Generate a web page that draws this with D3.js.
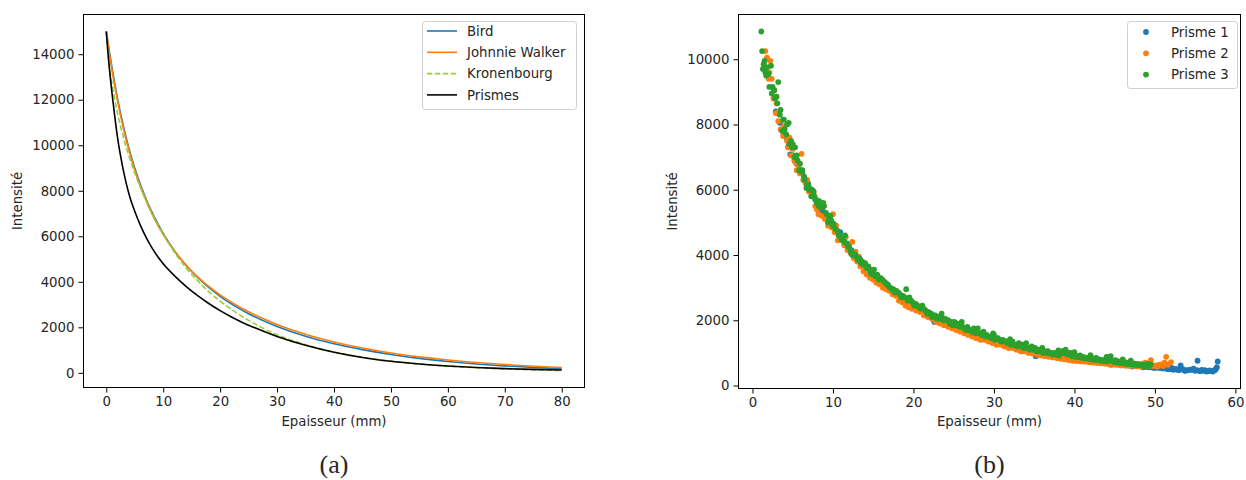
<!DOCTYPE html>
<html>
<head>
<meta charset="utf-8">
<script src="https://cdn.jsdelivr.net/npm/d3@7"></script>
<style>
  body { margin: 0; background: #fff; }
  text { font-family: "DejaVu Sans", sans-serif; fill: #262626; }
</style>
</head>
<body>
<div id="chart"></div>
<script>
// ---- left panel: fitted attenuation curves ----
const curveNames = ["Bird", "Johnnie Walker", "Kronenbourg", "Prismes"];
const curveColors = ["#1f77b4", "#ff7f0e", "#9acd32", "#000000"];
const birdCurve = [[0,15000],[0.5,14200],[1,13420],[2,12030],[3,10850],[4,9850],[5,9000],[6,8270],[7,7630],[8,7070],[9,6580],[10,6130],[12,5360],[14,4730],[16,4200],[18,3750],[20,3360],[25,2600],[30,2040],[35,1610],[40,1280],[45,1020],[50,805],[55,635],[60,500],[65,390],[70,305],[75,240],[80,185]];
const walkerCurve = [[0,15000],[0.5,14120],[1,13310],[2,11915],[3,10745],[4,9758],[5,8915],[6,8190],[7,7560],[8,7005],[9,6517],[10,6082],[12,5343],[14,4737],[16,4230],[18,3799],[20,3427],[25,2684],[30,2124],[35,1694],[40,1356],[45,1088],[50,873],[55,702],[60,564],[65,453],[70,364],[75,293],[80,235]];
const kronenbourgCurve = [[0,15000],[0.5,13560],[1,12710],[2,11380],[3,10370],[4,9514],[5,8781],[6,8149],[7,7545],[8,7005],[9,6517],[10,6082],[12,5290],[14,4619],[16,4061],[18,3571],[20,3153],[25,2308],[30,1678],[35,1237],[40,915],[45,685],[50,515],[55,386],[60,293],[65,224],[70,171],[75,132],[80,101]];
const prismesCurve = [[0,15000],[0.25,14200],[0.5,13500],[1,12300],[1.5,11250],[2,10300],[3,8900],[4,7850],[5,7100],[6,6480],[7,5950],[8,5500],[9,5120],[10,4790],[12,4260],[14,3800],[16,3400],[18,3046],[20,2732],[22,2452],[24,2202],[26,1990],[30,1600],[35,1210],[40,905],[45,675],[50,507],[55,386],[60,298],[65,233],[70,186],[75,151],[80,126]];
const xTicksA = [0, 10, 20, 30, 40, 50, 60, 70, 80];
const yTicksA = [0, 2000, 4000, 6000, 8000, 10000, 12000, 14000];

// ---- right panel: measured points ----
const pointNames = ["Prisme 1", "Prisme 2", "Prisme 3"];
const pointColors = ["#1f77b4", "#ff7f0e", "#2ca02c"];
const prisme1 = [[2.9,8400],[3.4,8050],[3.8,7800],[4.2,7600],[4.7,7080],[5.1,7050],[5.5,6800],[6.0,6600],[6.4,6350],[6.9,6200],[7.3,5900],[7.8,5700],[8.2,5350],[8.7,5350],[9.1,5200],[9.6,5050],[10.0,4950],[10.5,4750],[10.9,4700],[11.4,4450],[11.8,4350],[12.3,4150],[12.7,4050],[13.2,3950],[13.6,3800],[14.1,3650],[14.5,3550],[15.0,3400],[15.4,3350],[15.9,3200],[16.3,3150],[16.8,3100],[17.2,2950],[17.7,2900],[18.1,2850],[18.6,2700],[19.0,2650],[19.5,2600],[19.9,2500],[20.4,2400],[20.8,2400],[21.3,2300],[21.7,2250],[22.2,2200],[22.6,1950],[23.1,1950],[23.5,2050],[24.0,2000],[24.4,1950],[24.9,1900],[25.3,1850],[25.8,1800],[26.2,1750],[26.7,1750],[27.1,1650],[27.6,1650],[28.0,1600],[28.5,1550],[28.9,1500],[29.4,1450],[29.8,1450],[30.3,1400],[30.7,1350],[31.2,1350],[31.6,1300],[32.1,1280],[32.5,1250],[33.0,1200],[33.4,1050],[33.9,1150],[34.3,1100],[34.8,1100],[35.2,900],[35.7,1050],[36.1,1000],[36.6,1000],[37.0,950],[37.5,950],[37.9,920],[38.4,880],[38.8,900],[39.3,850],[39.7,860],[40.2,830],[40.6,820],[41.1,800],[41.5,780],[42.0,760],[42.4,760],[42.9,740],[43.3,700],[43.8,720],[44.2,680],[44.7,690],[45.1,660],[45.6,650],[46.0,640],[46.5,620],[46.9,620],[47.4,600],[47.8,600],[48.3,580],[48.7,570],[49.2,560],[49.6,560],[50.1,550],[50.5,540],[51.0,520],[51.4,530],[51.9,500],[52.3,480],[52.8,480],[53.2,620],[53.7,450],[54.1,470],[54.6,480],[55.0,450],[55.3,760],[55.6,440],[56.0,450],[56.4,430],[56.8,460],[57.2,430],[57.5,480],[57.7,560],[57.8,740],
  [3.0,8350],[4.0,7700],[4.5,7350],[5.3,6900],[6.2,6500],[7.1,6000],[8.0,5500],[9.4,5000],[10.7,4600],[12.0,4250],[13.4,3850],[14.8,3450],[16.1,3150],[17.5,2900],[18.8,2700],[20.2,2450],[21.5,2250],[22.9,2100],[24.2,1950],[25.6,1800],[26.9,1700],[28.3,1550],[29.6,1450],[31.0,1350],[32.3,1250],[33.7,1150],[35.0,1080],[36.4,980],[37.7,920],[39.0,870],[40.4,800],[41.8,760],[43.1,720],[44.5,640],[45.8,620],[47.2,580],[48.5,560],[49.9,540],[50.8,540],[51.6,500],[52.1,540],[52.6,510],[53.0,470],[53.5,500],[53.9,460],[54.4,490],[54.8,520],[55.2,470],[55.8,480],[56.2,470],[56.6,440],[57.0,450],[57.4,470],[57.6,520]];
const prisme2 = [[1.4,9850],[1.6,10250],[1.8,10050],[2.1,9600],[2.4,9400],[2.7,9050],[3.0,8650],[3.3,8400],[3.6,7850],[3.9,7950],[4.3,7500],[4.6,7600],[5.0,7250],[5.3,6850],[5.7,6750],[6.1,7100],[6.4,6400],[6.8,6300],[7.2,5950],[7.6,5900],[8.0,5400],[8.4,5550],[8.8,5200],[9.2,5150],[9.6,5000],[10.0,5250],[10.4,4900],[10.8,4600],[11.2,4450],[11.6,4550],[12.0,4200],[12.4,4400],[12.8,4100],[13.2,3950],[13.6,3800],[14.0,3600],[14.4,3550],[14.8,3400],[15.2,3300],[15.6,3200],[16.0,3150],[16.4,3100],[16.8,3050],[17.2,2950],[17.6,2850],[18.0,2800],[18.4,2700],[18.8,2650],[19.2,2500],[19.6,2400],[20.0,2500],[20.5,2350],[21.0,2300],[21.5,2200],[22.0,2150],[22.5,2100],[23.0,2000],[23.5,2000],[24.0,1950],[24.5,1850],[25.0,1850],[25.5,1800],[26.0,1700],[26.5,1650],[27.0,1600],[27.5,1700],[28.0,1550],[28.5,1500],[29.0,1450],[29.5,1400],[30.0,1350],[30.5,1300],[31.0,1300],[31.5,1250],[32.0,1200],[32.5,1200],[33.0,1150],[33.5,1100],[34.0,1100],[34.5,1050],[35.0,1000],[35.5,1000],[36.0,950],[36.5,950],[37.0,900],[37.5,880],[38.0,850],[38.5,850],[39.0,820],[39.5,800],[40.0,800],[40.5,780],[41.0,760],[41.5,760],[42.0,740],[42.5,720],[43.0,720],[43.5,700],[44.0,700],[44.5,680],[45.0,680],[45.5,660],[46.0,660],[46.5,640],[47.0,650],[47.5,640],[48.0,620],[48.5,660],[49.0,620],[49.5,780],[50.0,620],[50.5,640],[51.0,600],[51.4,880],[51.6,640],[52.0,720],
  [2.0,9400],[2.2,9950],[2.6,8800],[2.9,8350],[3.2,8100],[3.5,7850],[3.8,7650],[4.1,7700],[4.4,7300],[4.8,7050],[5.2,6900],[5.5,6600],[5.9,6500],[6.3,6300],[6.6,6200],[7.0,5950],[7.4,5800],[7.8,5500],[8.2,5250],[8.6,5200],[9.0,5100],[9.4,4900],[9.8,4850],[10.2,4700],[10.6,4450],[11.0,4450],[11.4,4300],[11.8,4150],[12.2,4050],[12.6,3900],[13.0,3800],[13.4,3650],[13.8,3500],[14.2,3400],[14.6,3300],[15.0,3250],[15.4,3150],[15.8,3100],[16.2,3000],[16.6,2950],[17.0,2900],[17.4,2800],[17.8,2750],[18.2,2600],[18.6,2550],[19.0,2450],[19.4,2400],[19.8,2350],[20.3,2300],[20.8,2250],[21.3,2150],[21.8,2100],[22.3,2050],[22.8,1950],[23.3,1900],[23.8,1850],[24.3,1800],[24.8,1750],[25.3,1700],[25.8,1650],[26.3,1600],[26.8,1550],[27.3,1500],[27.8,1450],[28.3,1400],[28.8,1400],[29.3,1350],[29.8,1300],[30.3,1250],[30.8,1250],[31.3,1200],[31.8,1150],[32.3,1150],[32.8,1100],[33.3,1050],[33.8,1050],[34.3,1000],[34.8,980],[35.3,950],[35.8,920],[36.3,900],[36.8,880],[37.3,860],[37.8,840],[38.3,820],[38.8,800],[39.3,780],[39.8,760],[40.3,750],[40.8,740],[41.3,730],[41.8,710],[42.3,700],[42.8,690],[43.3,680],[43.8,670],[44.3,650],[44.8,640],[45.3,630],[45.8,620],[46.3,610],[46.8,600],[47.3,600],[47.8,590],[48.3,580],[48.8,700],[49.3,590],[49.8,600],[50.3,580],[50.8,650],[51.2,700]];
const prisme3 = [[1.1,10850],[1.2,10250],[1.4,9850],[1.6,9600],[1.8,9750],[2.0,9550],[2.3,9800],[2.5,9150],[2.7,9050],[3.0,8850],[3.2,9300],[3.5,8450],[3.8,8150],[4.0,7850],[4.3,8000],[4.5,8050],[4.8,7500],[5.0,7400],[5.3,7300],[5.6,6900],[5.9,6800],[6.2,6600],[6.5,6300],[6.8,6150],[7.1,6000],[7.4,6000],[7.7,5800],[8.0,5600],[8.3,5650],[8.6,5500],[8.9,5500],[9.2,5250],[9.5,5100],[9.8,5050],[10.1,4950],[10.5,4750],[10.8,4600],[11.2,4450],[11.5,4600],[11.9,4250],[12.2,4100],[12.6,4050],[12.9,3950],[13.3,3900],[13.6,3800],[14.0,3750],[14.4,3650],[14.7,3450],[15.1,3550],[15.5,3400],[15.9,3300],[16.3,3200],[16.7,3100],[17.1,3000],[17.5,2950],[17.9,2900],[18.3,2800],[18.7,2750],[19.1,2950],[19.5,2700],[19.9,2550],[20.3,2500],[20.7,2400],[21.1,2450],[21.5,2300],[21.9,2250],[22.3,2100],[22.7,2150],[23.1,2100],[23.5,2200],[23.9,2050],[24.3,2000],[24.7,1950],[25.1,1950],[25.5,1900],[25.9,1850],[26.3,1750],[26.7,1800],[27.1,1700],[27.5,1750],[27.9,1650],[28.3,1600],[28.7,1650],[29.1,1550],[29.5,1500],[29.9,1600],[30.3,1450],[30.7,1400],[31.1,1400],[31.5,1350],[31.9,1300],[32.3,1350],[32.7,1250],[33.1,1300],[33.5,1250],[33.9,1200],[34.3,1150],[34.7,1200],[35.1,1150],[35.5,1100],[35.9,1100],[36.3,1050],[36.7,1050],[37.1,1000],[37.5,1000],[37.9,950],[38.3,980],[38.7,1000],[39.1,950],[39.5,1000],[39.9,950],[40.3,900],[40.7,920],[41.1,880],[41.5,850],[41.9,870],[42.3,820],[42.7,850],[43.1,800],[43.5,780],[43.9,800],[44.3,820],[44.7,760],[45.1,780],[45.5,740],[45.9,700],[46.3,720],[46.7,690],[47.1,700],[47.5,670],[47.9,660],[48.3,650],[48.7,640],[49.1,660],[49.5,650],
  [1.3,9700],[1.5,9950],[1.7,9500],[2.1,9150],[2.4,8950],[2.8,8800],[3.1,8650],[3.4,8300],[3.7,7800],[3.9,8150],[4.2,7700],[4.6,7400],[4.9,7300],[5.2,7000],[5.5,7050],[5.8,6600],[6.1,6550],[6.4,6400],[6.7,6050],[7.0,6100],[7.3,5800],[7.6,5950],[7.9,5700],[8.2,5500],[8.5,5450],[8.8,5600],[9.1,5300],[9.4,5000],[9.7,5200],[10.0,4900],[10.3,4800],[10.7,4650],[11.0,4500],[11.4,4400],[11.7,4350],[12.0,4250],[12.4,4000],[12.8,4000],[13.1,3850],[13.5,3750],[13.8,3700],[14.2,3600],[14.6,3550],[14.9,3400],[15.3,3350],[15.7,3250],[16.1,3250],[16.5,3150],[16.9,3050],[17.3,2950],[17.7,2850],[18.1,2850],[18.5,2700],[18.9,2700],[19.3,2600],[19.7,2600],[20.1,2450],[20.5,2450],[20.9,2350],[21.3,2350],[21.7,2200],[22.1,2200],[22.5,2150],[22.9,2050],[23.3,2050],[23.7,2000],[24.1,2000],[24.5,1900],[24.9,1850],[25.3,1850],[25.7,1800],[26.1,1800],[26.5,1700],[26.9,1700],[27.3,1650],[27.7,1600],[28.1,1600],[28.5,1550],[28.9,1500],[29.3,1500],[29.7,1450],[30.1,1400],[30.5,1450],[30.9,1350],[31.3,1350],[31.7,1300],[32.1,1250],[32.5,1250],[32.9,1200],[33.3,1200],[33.7,1150],[34.1,1150],[34.5,1100],[34.9,1100],[35.3,1050],[35.7,1050],[36.1,1000],[36.5,1000],[36.9,980],[37.3,950],[37.7,950],[38.1,920],[38.5,1050],[38.9,1100],[39.3,1000],[39.7,900],[40.1,880],[40.5,870],[40.9,850],[41.3,830],[41.7,820],[42.1,800],[42.5,790],[42.9,780],[43.3,760],[43.7,750],[44.1,740],[44.5,900],[44.9,720],[45.3,700],[45.7,690],[46.1,680],[46.5,660],[46.9,650],[47.3,640],[47.7,630],[48.1,620],[48.5,610],[48.9,600],[49.3,600],
  [26.0,1950],[28.0,1750],[30.0,1560],[32.0,1420],[34.0,1300],[36.0,1150],[38.0,1080],[40.0,1020],[42.0,930],[44.0,880],[46.0,800],[47.0,760]];
const xTicksB = [0, 10, 20, 30, 40, 50, 60];
const yTicksB = [0, 2000, 4000, 6000, 8000, 10000];

const curves = [birdCurve, walkerCurve, kronenbourgCurve, prismesCurve];
const pointSets = [prisme1, prisme2, prisme3];

const svg = d3.select("#chart").append("svg")
    .attr("width", 1246)
    .attr("height", 480);

// matplotlib-like 5% padding around the data
function padded(ext) {
    const p = (ext[1] - ext[0]) * 0.05;
    return [ext[0] - p, ext[1] + p];
}

// frame, ticks and labels for one panel
function drawAxes(box, x, y, xt, yt, caption) {
    const g = svg.append("g");
    g.append("g")
        .attr("transform", `translate(0,${box.bottom})`)
        .call(d3.axisBottom(x).tickValues(xt).tickSize(5).tickPadding(4).tickSizeOuter(0).tickFormat(d3.format("d")))
        .call(a => a.select(".domain").remove());
    g.append("g")
        .attr("transform", `translate(${box.left},0)`)
        .call(d3.axisLeft(y).tickValues(yt).tickSize(5).tickPadding(4).tickSizeOuter(0).tickFormat(d3.format("d")))
        .call(a => a.select(".domain").remove());
    g.selectAll(".tick line").attr("stroke", "#000").attr("stroke-width", 1);
    g.selectAll(".tick text")
        .style("font-family", "'DejaVu Sans', sans-serif")
        .style("font-size", "13.3px")
        .attr("fill", "#262626");

    g.append("rect")
        .attr("x", box.left).attr("y", box.top)
        .attr("width", box.right - box.left).attr("height", box.bottom - box.top)
        .attr("fill", "none").attr("stroke", "#000").attr("stroke-width", 1);

    g.append("text")
        .attr("x", (box.left + box.right) / 2).attr("y", 426)
        .attr("text-anchor", "middle")
        .style("font-size", "13.3px")
        .text("Epaisseur (mm)");
    g.append("text")
        .attr("transform", `translate(${box.left - 62},${(box.top + box.bottom) / 2}) rotate(-90)`)
        .attr("text-anchor", "middle")
        .style("font-size", "13.3px")
        .text("Intensité");
    g.append("text")
        .attr("x", (box.left + box.right) / 2).attr("y", 473)
        .attr("text-anchor", "middle")
        .style("font-family", "'Liberation Serif', serif")
        .style("font-size", "26px")
        .attr("fill", "#000")
        .text(caption);
}

// ---- panel (a) ----
const boxA = { left: 83.5, right: 584.5, top: 14.5, bottom: 387.5 };
const xA = d3.scaleLinear()
    .domain(padded(d3.extent(curves.flat(), d => d[0])))
    .range([boxA.left, boxA.right]);
const yA = d3.scaleLinear()
    .domain(padded(d3.extent(curves.flat(), d => d[1])))
    .range([boxA.bottom, boxA.top]);

const line = d3.line()
    .x(d => xA(d[0]))
    .y(d => yA(d[1]))
    .curve(d3.curveMonotoneX);

const gA = svg.append("g");
curves.forEach((c, i) => {
    gA.append("path")
        .datum(c)
        .attr("d", line)
        .attr("fill", "none")
        .attr("stroke", curveColors[i])
        .attr("stroke-width", 1.6)
        .attr("stroke-dasharray", curveNames[i] === "Kronenbourg" ? "5.5,2.4" : null);
});
drawAxes(boxA, xA, yA, xTicksA, yTicksA, "(a)");

// legend (a)
const legA = svg.append("g");
legA.append("rect")
    .attr("x", 422.5).attr("y", 21.5).attr("width", 154).attr("height", 88)
    .attr("rx", 3).attr("fill", "#fff").attr("fill-opacity", 0.8)
    .attr("stroke", "#d0d0d0");
curveNames.forEach((n, i) => {
    const yy = 31 + i * 21.3;
    legA.append("line")
        .attr("x1", 427).attr("x2", 457).attr("y1", yy).attr("y2", yy)
        .attr("stroke", curveColors[i]).attr("stroke-width", 1.6)
        .attr("stroke-dasharray", n === "Kronenbourg" ? "5.5,2.4" : null);
    legA.append("text")
        .attr("x", 467).attr("y", yy).attr("dy", "0.35em")
        .style("font-size", "13.3px")
        .text(n);
});

// ---- panel (b) ----
const boxB = { left: 738.5, right: 1240.5, top: 14.5, bottom: 388.5 };
const xB = d3.scaleLinear()
    .domain(padded(d3.extent(pointSets.flat(), d => d[0])))
    .range([boxB.left, boxB.right]);
const yB = d3.scaleLinear()
    .domain(padded(d3.extent(pointSets.flat(), d => d[1])))
    .range([boxB.bottom, boxB.top]);

const gB = svg.append("g");
pointSets.forEach((pts, i) => {
    gB.append("g")
        .selectAll("circle")
        .data(pts)
        .join("circle")
        .attr("cx", d => xB(d[0]))
        .attr("cy", d => yB(d[1]))
        .attr("r", 2.9)
        .attr("fill", pointColors[i]);
});
drawAxes(boxB, xB, yB, xTicksB, yTicksB, "(b)");

// legend (b)
const legB = svg.append("g");
legB.append("rect")
    .attr("x", 1127.5).attr("y", 21.5).attr("width", 110).attr("height", 67)
    .attr("rx", 3).attr("fill", "#fff").attr("fill-opacity", 0.8)
    .attr("stroke", "#d0d0d0");
pointNames.forEach((n, i) => {
    const yy = 32 + i * 21.3;
    legB.append("circle")
        .attr("cx", 1146).attr("cy", yy).attr("r", 2.9)
        .attr("fill", pointColors[i]);
    legB.append("text")
        .attr("x", 1171).attr("y", yy).attr("dy", "0.35em")
        .style("font-size", "13.3px")
        .text(n);
});
</script>
</body>
</html>
